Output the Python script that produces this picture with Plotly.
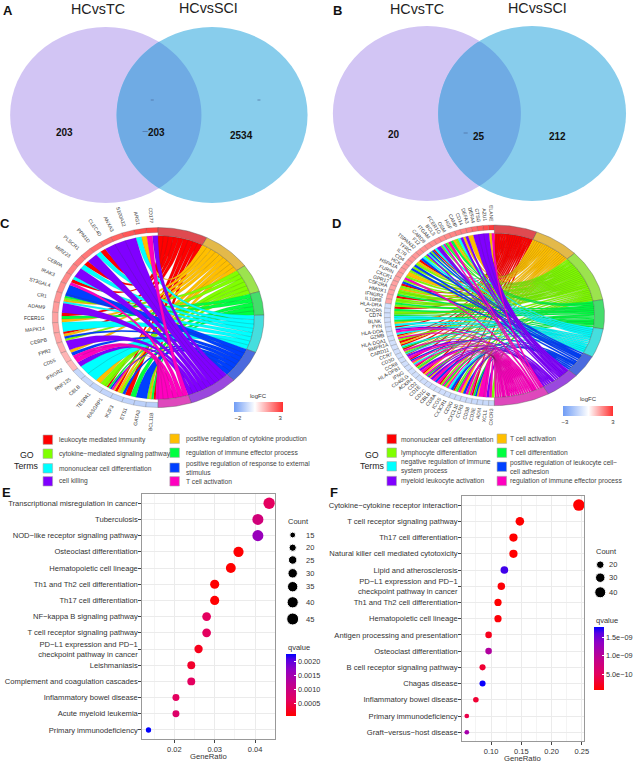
import numpy as np
import plotly.graph_objects as go

W, H = 637, 762
# ---------- data ----------
term_codes = "RYLGCBPK"
rainbow = ["#FF0000", "#FFBF00", "#80FF00", "#00FF40", "#00FFFF", "#0040FF", "#8000FF", "#FF00BF"]
ring_cols = ["#DF4A50", "#E3B94A", "#9CE34E", "#45DD6C", "#45DEDE", "#4A6ADE", "#9A48DE", "#DE48BC"]

venn_a = ["203", "203", "2534"]
venn_b = ["20", "25", "212"]
venn_sets = ["HCvsTC", "HCvsSCI"]

terms_c = ["leukocyte mediated immunity", "positive regulation of cytokine production",
           "cytokine\u2212mediated signaling pathway", "regulation of immune effector process",
           "mononuclear cell differentiation", "positive regulation of response to external<br>stimulus",
           "cell killing", "T cell activation"]
genes_c = ["CD177", "ARG1", "S100A12", "ANXA3", "CLEC4D", "PPM1D", "PLSCR1", "MIR223", "CEBPA", "IRAK3",
           "ST3GAL4", "CR1", "ADAM9", "FCER1G", "MAPK14", "CEBPB", "FPR2", "CD55", "IFNGR2", "RNF125",
           "CBLB", "TESPA1", "RASGRP1", "IKZF3", "ETS1", "GATA3", "BCL11B"]
links_c = ["PK", "YC", "P", "P", "P", "RC", "P", "RC", "P", "CRK",
           "B", "BGLYC", "P", "RGY", "C", "RYBL", "P", "YBK", "KP", "C",
           "C", "YL", "LRGBKY", "RYLB", "RG", "B", "LYGRK"]
lfc_c = [3.0, 2.9, 2.7, 2.5, 2.4, 2.3, 2.2, 2.1, 2.0, 1.9, 1.8, 1.7, 1.6, 1.5, 1.45, 1.4, 1.3, 1.2, 1.1,
         -1.0, -1.0, -1.05, -1.05, -1.1, -1.1, -1.15, -1.2]

terms_d = ["mononuclear cell differentiation", "T cell activation", "lymphocyte differentiation",
           "T cell differentiation", "negative regulation of immune<br>system process",
           "positive regulation of leukocyte cell\u2212<br>cell adhesion", "myeloid leukocyte activation",
           "regulation of immune effector process"]
genes_d = ["ELANE", "AZU1", "CTSG", "DEFA4", "DEFA3", "CD14", "CAMP", "HGF", "OSM", "FCER1G", "BCL3", "ITGAM",
           "CARD9", "F12", "TSPAN32", "TFRC", "IL7R", "CD4", "HCK", "HSPA1A", "FURIN", "CXCR1", "GPR17", "CSF2RA",
           "HMOX1", "IFNGR2", "IL10RB", "HLA-DRA", "CXCR5", "CD74", "BLNK", "FYN", "HLA-DOA", "GZMB", "HLA-DQA1",
           "BMPR1A", "CARD11", "CCR7", "CD3D", "CCR8", "HLA-DPB1", "IFNG", "CD40LG", "ACKR4", "CD2", "CD1E", "CD1C",
           "CBLB", "CD8A", "ICOS", "CX3CR1", "CD3G", "CXCL10", "CCR3", "CD38", "CD3E", "ADM", "XCL1", "CXCR3"]
links_d = ["KY", "P", "P", "P", "Y", "PY", "PC", "LY", "GK", "LGK", "CLP", "PC", "RBL", "BCP", "LC", "BR", "YL", "BL",
           "BL", "Y", "LK", "LB", "RL", "YL", "LG", "RL", "LG", "LR", "GL", "LGC", "CG", "YC", "RCP", "KC", "RYK",
           "LR", "YRC", "GRK", "YLGCR", "PK", "RBK", "YCK", "RLGY", "PK", "RYK", "GPY", "PK", "BK", "RLK", "GYK",
           "CB", "RLG", "KY", "BK", "LKR", "GBY", "K", "KP", "KL"]
lfc_d = [2.9, 2.6, 2.4, 2.2, 2.0, 1.9, 1.85, 1.8, 1.75, 1.7, 1.7, 1.65, 1.65, 1.6, 1.6, 1.55, 1.55, 1.5, 1.5, 1.45,
         1.45, 1.4, 1.4, 1.35, 1.35, 1.3, 1.3,
         -1.0, -1.0, -1.0, -1.0, -1.0, -1.0, -1.0, -1.0, -1.0, -1.0, -1.0, -1.05, -1.05, -1.05, -1.05, -1.05, -1.05,
         -1.05, -1.1, -1.1, -1.1, -1.1, -1.1, -1.1, -1.15, -1.15, -1.15, -1.15, -1.2, -1.2, -1.2, -1.25]

path_e = ["Transcriptional misregulation in cancer", "Tuberculosis", "NOD\u2212like receptor signaling pathway",
          "Osteoclast differentiation", "Hematopoietic cell lineage", "Th1 and Th2 cell differentiation",
          "Th17 cell differentiation", "NF\u2212kappa B signaling pathway", "T cell receptor signaling pathway",
          "PD\u2212L1 expression and PD\u22121<br>checkpoint pathway in cancer", "Leishmaniasis",
          "Complement and coagulation cascades", "Inflammatory bowel disease", "Acute myeloid leukemia",
          "Primary immunodeficiency"]
ratio_e = [.0435, .0407, .0407, .0359, .034, .030, .030, .028, .028, .026, .0242, .0242, .0204, .0204, .0136]
count_e = [45, 42, 42, 37, 35, 31, 31, 29, 29, 27, 25, 25, 21, 21, 15]
q_e = [.0006, .0009, .0016, .00005, .00002, .00002, .00005, .0006, .0006, .0002, .0003, .0006, .0006, .0007, .00225]
legend_count_e = [15, 20, 25, 30, 35, 40, 45]

path_f = ["Cytokine\u2212cytokine receptor interaction", "T cell receptor signaling pathway", "Th17 cell differentiation",
          "Natural killer cell mediated cytotoxicity", "Lipid and atherosclerosis",
          "PD\u2212L1 expression and PD\u22121<br>checkpoint pathway in cancer", "Th1 and Th2 cell differentiation",
          "Hematopoietic cell lineage", "Antigen processing and presentation", "Osteoclast differentiation",
          "B cell receptor signaling pathway", "Chagas disease", "Inflammatory bowel disease",
          "Primary immunodeficiency", "Graft\u2212versus\u2212host disease"]
ratio_f = [.245, .1476, .137, .137, .122, .117, .1115, .1115, .096, .096, .086, .086, .075, .06, .06]
count_f = [47, 28, 26, 26, 23, 22, 21, 21, 18, 18, 16, 16, 14, 11, 11]
q_f = [.1e-10, .1e-10, .2e-10, .2e-10, 16.5e-10, 1e-10, .5e-10, 1e-10, 2e-10, 10.5e-10, 3e-10, 17.5e-10, 3e-10,
       4e-10, 11.5e-10]
legend_count_f = [20, 30, 40]

# ---------- figure ----------
fig = go.Figure()
PIX = dict(xaxis="x", yaxis="y")
shapes, annos = [], []


def text(x, y, s, size=7, color="#333333", anchor="center", bold=False, family="Liberation Sans", angle=0):
    annos.append(dict(x=x, y=y, xref="x", yref="y", text=f"<b>{s}</b>" if bold else s, showarrow=False,
                      xanchor=anchor, yanchor="middle", textangle=angle, align="left",
                      font=dict(size=size, color=color, family=family)))


# --- Venn ---
def venn(lx0, lx1, rx0, rx1, y0, y1, labels, xs, ys, tx, ty):
    shapes.append(dict(type="circle", xref="x", yref="y", x0=lx0, x1=lx1, y0=y0, y1=y1,
                       fillcolor="#D2C5F4", line_width=0, layer="below"))
    shapes.append(dict(type="circle", xref="x", yref="y", x0=rx0, x1=rx1, y0=y0, y1=y1,
                       fillcolor="#88CDEC", line_width=0, layer="below"))
    a, b = (lx1 - lx0) / 2, (y1 - y0) / 2
    cl, cr, cy = (lx0 + lx1) / 2, (rx0 + rx1) / 2, (y0 + y1) / 2
    a2 = (rx1 - rx0) / 2
    xm = (cl + cr) / 2
    half = np.arccos((xm - cl) / a)
    th = np.linspace(-half, half, 80)
    fig.add_trace(go.Scatter(x=np.r_[cl + a * np.cos(th), (cr - a2 * np.cos(th))[::-1]],
                             y=np.r_[cy + b * np.sin(th), (cy + b * np.sin(th))[::-1]],
                             fill="toself", fillcolor="#6FABE4", mode="none", hoverinfo="skip", **PIX))
    for s, x, y in zip(venn_sets, tx, ty):
        text(x, y, s, size=14.3, color="#222222")
    for s, x, y in zip(labels, xs, ys):
        text(x, y, s, size=10, color="#111111", bold=True)


venn(10.2, 203, 117.5, 310, 27, 203, venn_a, [65, 157.5, 243], [132.6, 132.6, 135], [99, 210], [9, 8])
venn(335.5, 525, 441.6, 631, 26, 201, venn_b, [397, 482.4, 561.6], [134, 136, 136], [420, 541.6], [9, 8])
for x0, x1, y in [(152, 155, 100), (259.5, 262.5, 100), (143.7, 149, 131.5), (467.3, 471.4, 133)]:
    shapes.append(dict(type="line", xref="x", yref="y", x0=x0, x1=x1, y0=y, y1=y,
                       line=dict(color="#4C6C9C", width=0.7)))


# --- Chord ---
def lerp_hex(a, b, t):
    ca = [int(a[i:i + 2], 16) for i in (1, 3, 5)]
    cb = [int(b[i:i + 2], 16) for i in (1, 3, 5)]
    return "rgb(%d,%d,%d)" % tuple(round(x + (y - x) * t) for x, y in zip(ca, cb))


LOW, HIGH = "#6F9CF5", "#FF3030"


def chord(cx, cy, Rx, Ry, genes, links, lfc, cmin, cmax, gapx, gapy, bar):
    def pt(t, r):
        return cx + Rx * r * np.sin(t), cy - Ry * r * np.cos(t)

    n = len(genes)
    d = np.pi / n
    counts = [sum(c in s for s in links) for c in term_codes]
    N = sum(counts)
    unit = np.pi / N
    # term ring slots, filled from top to bottom in gene order
    start = np.r_[0, np.cumsum(counts)] * unit
    used = [0] * 8
    polys = [[[], []] for _ in range(8)]
    for i, s in enumerate(links):
        for j, c in enumerate(s):
            k = term_codes.index(c)
            g0, g1 = -(i + j / len(s)) * d, -(i + (j + 1) / len(s)) * d
            t0 = start[k] + used[k] * unit
            t1 = t0 + unit
            used[k] += 1
            u = np.linspace(0, 1, 30)
            arc_g = np.linspace(g0, g1, 5)
            arc_t = np.linspace(t1, t0, 5)
            bez = lambda p, q: (1 - u) ** 2 * p + u ** 2 * q  # quadratic curve pulled through the centre
            xs = np.r_[0.91 * np.sin(arc_g), bez(0.91 * np.sin(g1), 0.91 * np.sin(t1)), 0.91 * np.sin(arc_t),
                       bez(0.91 * np.sin(t0), 0.91 * np.sin(g0))]
            ys = np.r_[0.91 * np.cos(arc_g), bez(0.91 * np.cos(g1), 0.91 * np.cos(t1)), 0.91 * np.cos(arc_t),
                       bez(0.91 * np.cos(t0), 0.91 * np.cos(g0))]
            polys[k][0] += list(cx + Rx * xs) + [None]
            polys[k][1] += list(cy - Ry * ys) + [None]
    for k in range(8):
        fig.add_trace(go.Scatter(x=polys[k][0], y=polys[k][1], fill="toself", fillcolor=rainbow[k], mode="lines",
                                 line=dict(color="rgba(60,60,60,0.35)", width=0.3), hoverinfo="skip", **PIX))
    # small marker trace that carries the logFC scale
    mx, my = pt(-(np.arange(n) + .5) * d, 0.97)
    fig.add_trace(go.Scatter(x=mx, y=my, mode="markers", hoverinfo="skip",
                             marker=dict(size=1, color=lfc, cmin=cmin, cmax=cmax, opacity=1,
                                         colorscale=[[0, LOW], [-cmin / (cmax - cmin), "#FFFFFF"], [1, HIGH]],
                                         colorbar=dict(orientation="h", x=bar[0] / W, xanchor="center",
                                                       y=1 - bar[1] / H, yanchor="top", len=bar[2], lenmode="pixels",
                                                       thickness=10, thicknessmode="pixels", xpad=0, ypad=0,
                                                       outlinewidth=0, ticks="", tickvals=bar[3],
                                                       ticktext=[str(v).replace("-", "\u2212") for v in bar[3]],
                                                       tickfont=dict(size=6, color="#333333",
                                                                     family="Liberation Sans"))), **PIX))
    text(bar[0], bar[1] - 6.3, "logFC", size=6, color="#333333")
    # gene ring
    for i, (g, v) in enumerate(zip(genes, lfc)):
        t = np.linspace(-i * d, -(i + 1) * d, 6)
        x1, y1 = pt(t, 1.0)
        x2, y2 = pt(t[::-1], 0.945)
        col = lerp_hex("#FFFFFF", HIGH, v / cmax) if v > 0 else lerp_hex("#FFFFFF", LOW, v / cmin)
        fig.add_trace(go.Scatter(x=np.r_[x1, x2, x1[0]], y=np.r_[y1, y2, y1[0]], fill="toself", fillcolor=col,
                                 mode="lines", line=dict(color="rgba(70,70,70,0.7)", width=0.3), hoverinfo="skip",
                                 **PIX))
        tm = -(i + .5) * d
        ox, oy = cx + (Rx + gapx) * np.sin(tm), cy - (Ry + gapy) * np.cos(tm)
        dx, dy = Rx * np.sin(tm), -Ry * np.cos(tm)
        L = np.hypot(dx, dy)
        w = len(g) * 5 * 0.62
        ang = np.degrees(np.arctan2(dy, dx)) + 180  # reads towards the ring on the left half
        text(ox + dx / L * w / 2, oy + dy / L * w / 2, g, size=5, color="#333333", angle=ang)
    # term ring
    for k in range(8):
        t = np.linspace(start[k], start[k + 1], 24)
        x1, y1 = pt(t, 1.0)
        x2, y2 = pt(t[::-1], 0.91)
        fig.add_trace(go.Scatter(x=np.r_[x1, x2, x1[0]], y=np.r_[y1, y2, y1[0]], fill="toself", fillcolor=ring_cols[k],
                                 mode="lines", line=dict(color="#555555", width=0.4), hoverinfo="skip", **PIX))


chord(159.3, 317.5, 106.7, 90, genes_c, links_c, lfc_c, -2.48, 3.32, 9, 4.5, (260.3, 402, 48.7, [-2, 3]))
chord(498.3, 315.3, 111, 90.3, genes_d, links_d, lfc_d, -3.2, 3.05, 3, 4, (593, 405.7, 49.7, [-3, 3]))


# --- GO legends ---
def go_legend(sw_l, sw_r, ys_l, ys_r, tx_l, tx_r, terms, gx):
    text(gx, 455, "GO", size=8.8, color="#222222")
    text(gx, 466, "Terms", size=8.8, color="#222222")
    for i in range(8):
        col = i % 2
        row = i // 2
        x0 = (sw_r if col else sw_l)
        y = (ys_r if col else ys_l)[row]
        shapes.append(dict(type="rect", xref="x", yref="y", x0=x0, x1=x0 + 9.6, y0=y - 4.7, y1=y + 4.7,
                           fillcolor=rainbow[i], line=dict(color="#AAAAAA", width=0.6)))
        text((tx_r if col else tx_l), y, terms[i], size=6.7, color="#444444", anchor="left")


go_legend(43.4, 171.2, [439.7, 453.7, 468.3, 481.3], [438.7, 452.7, 467.7, 481.3], 57, 185.7, terms_c, 27)
go_legend(390, 501, [439, 452.7, 466.3, 481], [438.7, 452.7, 466.7, 481], 402, 512, terms_d, 375)

for s, x, y in [("A", 8, 10), ("B", 340, 10), ("C", 5, 223), ("D", 339, 223), ("E", 7, 492), ("F", 337, 492)]:
    text(x, y, s, size=13, color="#111111", bold=True)


# --- Dot plots ---
def size_e(c):
    return np.sqrt(28 + (np.asarray(c, float) - 15) / 30 * 104)


def size_f(c):
    return np.sqrt(22 + (np.asarray(c, float) - 11) / 36 * 110)


RB = [[0, "#FF0000"], [.25, "#E4005E"], [.5, "#C0008F"], [.75, "#9000C4"], [.9, "#5A00E2"], [1, "#0000FF"]]


def cbar(x, ytop, ln, vals, txt):
    return dict(x=x / W, xanchor="left", y=1 - ytop / H, yanchor="top", len=ln, lenmode="pixels", thickness=10.3,
                thicknessmode="pixels", xpad=0, ypad=0, outlinewidth=0, ticks="inside", tickcolor="white", ticklen=2,
                tickvals=vals, ticktext=txt, tickfont=dict(size=7.3, color="#333333", family="Liberation Sans"))


fig.add_trace(go.Scatter(x=ratio_e, y=path_e, mode="markers", xaxis="x2", yaxis="y2", hoverinfo="skip",
                         marker=dict(size=size_e(count_e), color=q_e, colorscale=RB, cmin=.00004, cmax=.00225,
                                     line_width=0, opacity=1,
                                     colorbar=cbar(288, 654, 62, [.0005, .001, .0015, .002],
                                                   ["0.0005", "0.0010", "0.0015", "0.0020"]))))
fig.add_trace(go.Scatter(x=ratio_f, y=path_f, mode="markers", xaxis="x3", yaxis="y3", hoverinfo="skip",
                         marker=dict(size=size_f(count_f), color=q_f, colorscale=RB, cmin=.7e-10, cmax=17.7e-10,
                                     line_width=0, opacity=1,
                                     colorbar=cbar(599, 627.3, 63, [5e-10, 10e-10, 15e-10],
                                                   ["5.0e\u221210", "1.0e\u221209", "1.5e\u221209"]))))

fig.add_trace(go.Scatter(x=[295] * 7, y=[535, 547.7, 560, 573.3, 586.7, 602.3, 619], mode="markers", hoverinfo="skip",
                         marker=dict(size=size_e(legend_count_e) + .5, color="black", opacity=1), **PIX))
for c, y in zip(legend_count_e, [535, 547.7, 560, 573.3, 586.7, 602.3, 619]):
    text(306, y, str(c), size=7.5, anchor="left")
text(288, 521, "Count", size=7.5, anchor="left")
text(288, 647.3, "qvalue", size=7.5, anchor="left")
fig.add_trace(go.Scatter(x=[605] * 3, y=[564.7, 577.7, 592.3], mode="markers", hoverinfo="skip",
                         marker=dict(size=size_f(legend_count_f) + .5, color="black", opacity=1), **PIX))
for c, y in zip(legend_count_f, [564.7, 577.7, 592.3]):
    text(612, y, str(c), size=7.5, anchor="left")
text(599, 551.7, "Count", size=7.5, anchor="left")
text(599, 620.7, "qvalue", size=7.5, anchor="left")
text(210, 756.7, "GeneRatio", size=7.7)
text(527, 758, "GeneRatio", size=7.7)


def xax(px0, px1, rng, ticks, fmt, minors):
    return dict(domain=[px0 / W, px1 / W], range=rng, tickvals=ticks, ticktext=[fmt % t for t in ticks],
                showline=True, mirror=True, linecolor="#999999", linewidth=1, ticks="outside", ticklen=2.5,
                tickcolor="#444444", tickwidth=0.6, gridcolor="#EBEBEB", gridwidth=0.6, zeroline=False,
                tickfont=dict(size=7.5, color="#333333", family="Liberation Sans"), fixedrange=True,
                minor=dict(tickvals=minors, showgrid=True, gridcolor="#F4F4F4", gridwidth=0.4, ticks=""))


def yax(py0, py1, rng, cats):
    return dict(domain=[1 - py1 / H, 1 - py0 / H], range=rng, type="category", categoryorder="array",
                categoryarray=cats[::-1], showline=True, mirror=True, linecolor="#999999", linewidth=1,
                ticks="outside", ticklen=2.5, tickcolor="#444444", tickwidth=0.6, gridcolor="#EBEBEB", gridwidth=0.6,
                ticklabelstandoff=-1,
                tickfont=dict(size=7.6, color="#333333", family="Liberation Sans"), fixedrange=True)


ex = xax(143, 277, [.01196, .0449], [.02, .03, .04], "%.2f", [.015, .025, .035, .045])
ey = yax(494, 739, [-.556, 14.57], path_e)
fx = xax(465.3, 588.7, [.0515, .2536], [.10, .15, .20, .25], "%.2f", [.075, .125, .175, .225])
fy = yax(495.7, 741, [-.54, 14.58], path_f)

fig.update_layout(
    width=W, height=H, margin=dict(l=0, r=0, t=0, b=0), paper_bgcolor="white", plot_bgcolor="rgba(0,0,0,0)",
    showlegend=False, shapes=shapes, annotations=annos, hovermode=False,
    xaxis=dict(domain=[0, 1], range=[0, W], visible=False, fixedrange=True),
    yaxis=dict(domain=[0, 1], range=[H, 0], visible=False, fixedrange=True),
    xaxis2=dict(anchor="y2", **ex), yaxis2=dict(anchor="x2", **ey),
    xaxis3=dict(anchor="y3", **fx), yaxis3=dict(anchor="x3", **fy),
    font=dict(family="Liberation Sans"),
)
fig.write_html("out.html", config=dict(displayModeBar=False),
               post_script="document.body.style.margin='0';document.body.style.overflow='hidden';")
